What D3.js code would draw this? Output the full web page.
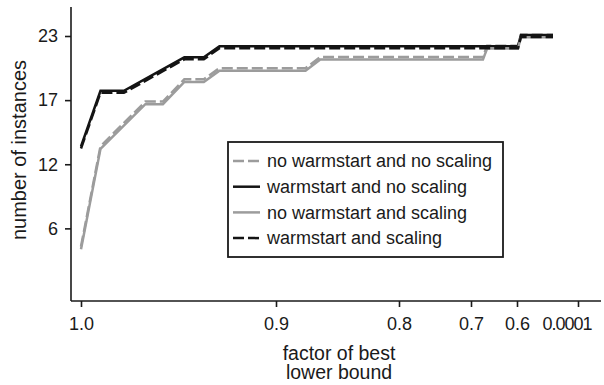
<!DOCTYPE html>
<html lang="en">
<head>
    <meta charset="UTF-8">
    <title>Instances vs. factor of best lower bound</title>
    <script src="https://d3js.org/d3.v7.min.js"></script>
    <style>
        body { margin: 0; background: #fff; }
        text { font-family: "Liberation Sans", Arial, Helvetica, sans-serif; fill: #1a1a1a; }
    </style>
</head>
<body>
    <div id="chart"></div>

    <script>
        // tick values on the (non-linear) x axis and the quarter marks of the y axis
        const xTicks = [1.0, 0.9, 0.8, 0.7, 0.6, 0.0001];
        const yTicks = [5.75, 11.5, 17.25, 23];

        // factor of best lower bound -> number of instances solved
        const noWarmNoScaleX = [1.0, 0.99, 0.967, 0.958, 0.947, 0.937, 0.929, 0.876, 0.864, 0.674, 0.665, 0.59, 0.561, 0.246];
        const noWarmNoScaleY = [4, 13, 17, 17, 19, 19, 20, 20, 21, 21, 22, 22, 23, 23];
        const warmNoScaleX = [1.0, 0.99, 0.978, 0.947, 0.937, 0.929, 0.59, 0.561, 0.246];
        const warmNoScaleY = [13, 18, 18, 21, 21, 22, 22, 23, 23];
        const noWarmScaleX = [1.0, 0.99, 0.967, 0.958, 0.947, 0.937, 0.929, 0.876, 0.864, 0.674, 0.665, 0.59, 0.561, 0.246];
        const noWarmScaleY = [4, 13, 17, 17, 19, 19, 20, 20, 21, 21, 22, 22, 23, 23];
        const warmScaleX = [1.0, 0.99, 0.978, 0.947, 0.937, 0.929, 0.59, 0.561, 0.246];
        const warmScaleY = [13, 18, 18, 21, 21, 22, 22, 23, 23];

        const seriesNames = ["no warmstart and no scaling", "warmstart and no scaling",
                             "no warmstart and scaling", "warmstart and scaling"];

        const W = 604, H = 385;
        const plotLeft = 71, plotRight = 601, plotTop = 7, plotBottom = 301;

        const svg = d3.select("#chart").append("svg")
            .attr("width", W).attr("height", H);

        // piecewise linear x scale, ticks are not evenly spaced
        const x = d3.scaleLinear()
            .domain(xTicks)
            .range([81, 276, 399, 471, 517, 578]);

        const y = d3.scaleLinear()
            .domain([0, 23])
            .range([292.5, 36]);

        // x axis
        const gx = svg.append("g")
            .attr("transform", `translate(0,${plotBottom})`)
            .call(d3.axisBottom(x)
                .tickValues(xTicks)
                .tickFormat(d => d < 0.01 ? "0.0001" : d3.format(".1f")(d))
                .tickSize(6).tickSizeOuter(0).tickPadding(10));
        gx.select(".domain").attr("d", `M${plotLeft},0H${plotRight}`);
        gx.selectAll("text").attr("font-size", 18).attr("font-family", null);
        // the last label is set tighter and sits a little left of its tick
        gx.selectAll(".tick text").filter(d => d < 0.01)
            .attr("letter-spacing", -1)
            .attr("text-anchor", "end")
            .attr("dx", 13);

        // y axis
        const gy = svg.append("g")
            .attr("transform", `translate(${plotLeft},0)`)
            .call(d3.axisLeft(y)
                .tickValues(yTicks)
                .tickFormat(d => Math.round(d))
                .tickSize(6).tickSizeOuter(0).tickPadding(7));
        gy.select(".domain").attr("d", `M0,${plotTop}V${plotBottom}`);
        gy.selectAll("text").attr("font-size", 18).attr("font-family", null);

        svg.selectAll(".domain, .tick line").attr("stroke", "#1a1a1a").attr("stroke-width", 1.6);

        // axis titles
        svg.append("text")
            .attr("transform", "translate(25.5,150) rotate(-90)")
            .attr("text-anchor", "middle")
            .attr("font-size", 20)
            .text("number of instances");

        const xTitle = svg.append("text")
            .attr("x", 339).attr("y", 360)
            .attr("text-anchor", "middle")
            .attr("font-size", 19.5);
        xTitle.append("tspan").attr("x", 339).text("factor of best");
        xTitle.append("tspan").attr("x", 339).attr("dy", 19).text("lower bound");

        // lines, drawn in legend order
        const series = [
            { xs: noWarmNoScaleX, ys: noWarmNoScaleY, color: "#9c9c9c", dash: "11,4", shift: -1.3 },
            { xs: warmNoScaleX, ys: warmNoScaleY, color: "#141414", dash: null, shift: -1 },
            { xs: noWarmScaleX, ys: noWarmScaleY, color: "#9c9c9c", dash: null, shift: 1.3 },
            { xs: warmScaleX, ys: warmScaleY, color: "#141414", dash: "11,4", shift: 1 }
        ];

        const line = d3.line()
            .x(d => x(d[0]))
            .y(d => y(d[1]));

        series.forEach(s => {
            svg.append("path")
                .datum(d3.zip(s.xs, s.ys))
                .attr("fill", "none")
                .attr("stroke", s.color)
                .attr("stroke-width", 2.5)
                .attr("stroke-dasharray", s.dash)
                .attr("transform", `translate(0,${s.shift})`)
                .attr("d", line);
        });

        // legend
        const legend = svg.append("g").attr("transform", "translate(228,142)");
        legend.append("rect")
            .attr("width", 275).attr("height", 115)
            .attr("fill", "#fff")
            .attr("stroke", "#1a1a1a").attr("stroke-width", 1.8);

        const rows = legend.selectAll("g.row")
            .data(series)
            .join("g")
            .attr("class", "row")
            .attr("transform", (d, i) => `translate(0,${19 + i * 25.7})`);
        rows.append("line")
            .attr("x1", 5).attr("x2", 32)
            .attr("stroke", d => d.color)
            .attr("stroke-width", 2.5)
            .attr("stroke-dasharray", d => d.dash);
        rows.append("text")
            .attr("x", 39).attr("dy", "0.35em")
            .attr("font-size", 18)
            .text((d, i) => seriesNames[i]);
    </script>
</body>
</html>
